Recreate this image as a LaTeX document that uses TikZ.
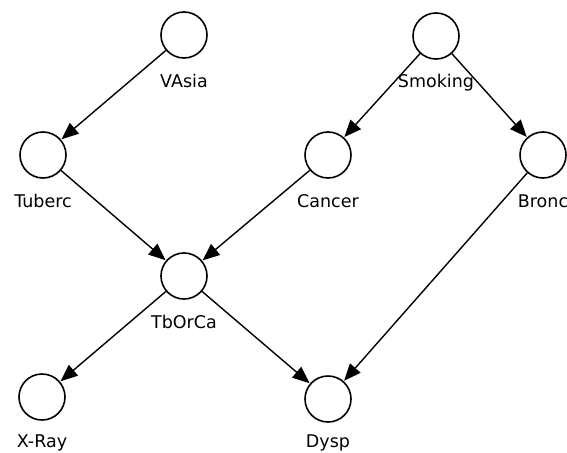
\documentclass[tikz,border=0pt]{standalone}
\usepackage{fontspec}
\setmainfont{DejaVu Sans}
\usetikzlibrary{arrows.meta}
\begin{document}
\begin{tikzpicture}[x=1pt,y=-1pt,
  var/.style={circle,draw=black,line width=1.6pt,minimum size=46pt,inner sep=0pt},
  lbl/.style={anchor=base,font=\fontsize{17.5}{21}\selectfont,inner sep=0pt},
  edge/.style={line width=1.4pt,-{Triangle[length=17pt,width=14pt]},shorten >=0.5pt}]
\useasboundingbox (0,0) rectangle (567,452);
\node[var] (va) at (184,35) {};
\node[var] (sm) at (436,36) {};
\node[var] (tu) at (43,155) {};
\node[var] (ca) at (328,155) {};
\node[var] (br) at (543,155) {};
\node[var] (tc) at (184,276) {};
\node[var] (xr) at (42,397) {};
\node[var] (dy) at (328,399) {};
\node[lbl] (val) at ([yshift=-52pt]va.center) {VAsia};
\node[lbl] (sml) at ([yshift=-51pt]sm.center) {Smoking};
\node[lbl] (tul) at ([yshift=-52pt]tu.center) {Tuberc};
\node[lbl] (cal) at ([yshift=-52pt]ca.center) {Cancer};
\node[lbl] (brl) at ([yshift=-52pt]br.center) {Bronc};
\node[lbl] (tcl) at ([yshift=-52pt]tc.center) {TbOrCa};
\node[lbl] (xrl) at ([yshift=-50pt]xr.center) {X-Ray};
\node[lbl] (dyl) at ([yshift=-48pt]dy.center) {Dysp};
\draw[edge] (va) -- (tu);
\draw[edge] (sm) -- (ca);
\draw[edge] (sm) -- (br);
\draw[edge] (tu) -- (tc);
\draw[edge] (ca) -- (tc);
\draw[edge] (tc) -- (xr);
\draw[edge] (tc) -- (dy);
\draw[edge] (br) -- (dy);
\end{tikzpicture}
\end{document}
